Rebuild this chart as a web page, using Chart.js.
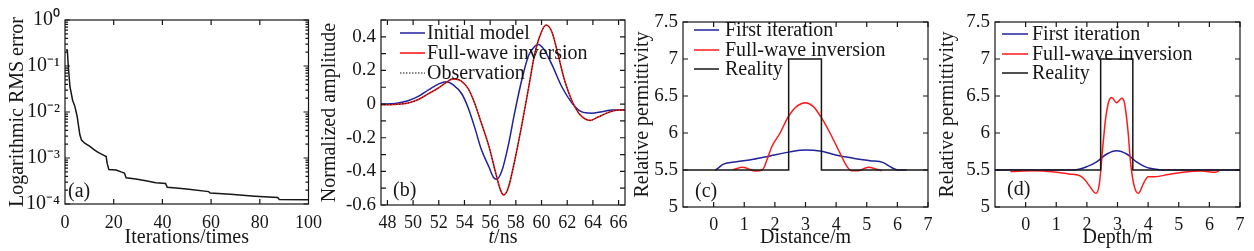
<!DOCTYPE html>
<html><head><meta charset="utf-8">
<script src="https://cdn.jsdelivr.net/npm/chart.js@4/dist/chart.umd.min.js"></script>
<style>
html,body{margin:0;padding:0;background:#fff;width:1254px;height:251px;overflow:hidden;position:relative}
canvas{position:absolute;top:0}
</style></head><body>
<canvas id="ca"></canvas><canvas id="cb"></canvas><canvas id="cc"></canvas><canvas id="cd"></canvas>
<script>
// ---------- (a) RMS error ----------
const aIter = [0.4,0.95,1.36,2.03,3.12,4.07,5.0,5.42,6.1,6.78,8.1,10.2,12.2,13.6,15.6,16.9,17.3,18.0,21.0,23.0,24.4,25.1,29.1,33.2,37.3,41.3,42.0,46.7,50.8,59.0,59.6,68.0,78.0,87.4,88.0,100];
const aErr = [0.223,0.223,0.097,0.0355,0.018,0.0131,0.008,0.0056,0.0032,0.00245,0.0021,0.00178,0.00149,0.00132,0.00117,0.00108,0.00077,0.00056,0.00055,0.0005,0.00047,0.00037,0.00035,0.00032,0.00029,0.00028,0.00023,0.00022,0.00021,0.000186,0.000174,0.000162,0.000148,0.000138,0.000126,0.000123];
const aXTicks = [0,20,40,60,80,100];
const aYTicks = [1e-4,1e-3,1e-2,1e-1,1];

// ---------- (b) waveforms ----------
const bTimeInit = [47.5,48.6,49.6,50.4,51.2,52.0,52.6,53.1,53.8,54.3,54.8,55.3,55.9,56.25,56.5,56.9,57.4,57.9,58.45,59.0,59.5,59.75,60.15,60.8,61.6,62.4,63.1,63.9,64.7,65.5,66.5];
const bInit = [0,0.004,0.02,0.046,0.085,0.12,0.133,0.116,0.06,-0.025,-0.14,-0.267,-0.373,-0.435,-0.447,-0.40,-0.25,-0.054,0.14,0.29,0.345,0.355,0.33,0.236,0.10,0.004,-0.045,-0.054,-0.045,-0.035,-0.035];
const bTimeFwi = [47.5,48.6,49.6,50.4,51.2,52.0,52.6,53.1,53.7,54.3,54.8,55.3,55.9,56.4,56.8,57.05,57.4,57.9,58.45,59.0,59.5,60.0,60.35,60.8,61.3,61.8,62.4,62.9,63.4,63.8,64.4,65.2,66.0,66.5];
const bFwi = [-0.004,-0.002,0.006,0.027,0.062,0.097,0.13,0.15,0.14,0.09,0.004,-0.11,-0.25,-0.40,-0.51,-0.54,-0.50,-0.34,-0.13,0.10,0.31,0.43,0.47,0.43,0.29,0.14,0.014,-0.054,-0.089,-0.097,-0.077,-0.05,-0.035,-0.035];
const bObs = [-0.004,-0.002,0.006,0.027,0.062,0.097,0.13,0.15,0.14,0.09,0.004,-0.11,-0.25,-0.40,-0.51,-0.54,-0.50,-0.34,-0.13,0.10,0.31,0.43,0.47,0.43,0.29,0.14,0.014,-0.054,-0.089,-0.097,-0.077,-0.05,-0.035,-0.035];
const bXTicks = [48,50,52,54,56,58,60,62,64,66];
const bYTicks = [-0.6,-0.4,-0.2,0,0.2,0.4];
const bYMinor = [-0.5,-0.3,-0.1,0.1,0.3,0.5];

// ---------- (c) permittivity vs distance ----------
const cXInit = [0.05,0.1,0.32,0.75,1.3,1.84,2.49,3.0,3.47,4.02,4.56,5.1,5.54,5.76,5.98,6.3];
const cInit = [5.5,5.51,5.58,5.61,5.645,5.69,5.745,5.77,5.757,5.70,5.66,5.626,5.6,5.545,5.505,5.5];
const cXFwi = [0.64,0.95,1.38,1.6,1.74,1.9,2.17,2.44,2.71,3.0,3.25,3.53,3.8,4.13,4.35,4.5,4.72,5.05,5.32,5.49];
const cFwi = [5.505,5.536,5.486,5.505,5.635,5.815,6.0,6.22,6.36,6.41,6.36,6.2,6.0,5.725,5.55,5.49,5.49,5.536,5.51,5.49];
const cXReal = [-1,2.45,2.45,3.52,3.52,7];
const cReal = [5.5,5.5,7,7,5.5,5.5];

// ---------- (d) permittivity vs depth ----------
const dXInit = [-1,1.56,2.0,2.32,2.65,2.97,3.3,3.62,3.95,4.28,4.5,7];
const dInit = [5.5,5.5,5.545,5.61,5.716,5.76,5.716,5.61,5.536,5.51,5.5,5.5];
const dXFwi = [-0.5,0.3,0.85,1.4,1.78,1.94,2.1,2.3,2.41,2.52,2.62,2.73,2.81,2.97,3.14,3.23,3.34,3.43,3.55,3.68,3.85,4.0,4.23,4.66,5.2,5.75,6.2,6.35];
const dFwi = [5.48,5.49,5.477,5.446,5.42,5.365,5.275,5.185,5.32,5.815,6.22,6.446,6.48,6.41,6.47,6.40,6.04,5.59,5.275,5.185,5.32,5.41,5.41,5.44,5.473,5.485,5.47,5.5];
const dXReal = [-1,2.45,2.45,3.5,3.5,7];
const dReal = [5.5,5.5,7,7,5.5,5.5];

const permXTicks = [0,1,2,3,4,5,6,7];
const permYTicks = [5,5.5,6,6.5,7,7.5];

// ---------- styling ----------
const FONT = "'Liberation Serif','Times New Roman',serif";
const INK = '#161616';
const BLUE = '#22229c';
const RED = '#ff1a1a';
const H = 251;

function pts(xs, ys){ return xs.map((x,i)=>({x:x, y:ys[i]})); }

const framePlugin = {
  id:'frame',
  afterDatasetsDraw(chart, args, o){
    const {ctx, chartArea:{left,right,top,bottom}, scales:{x,y}} = chart;
    ctx.save();
    ctx.strokeStyle = INK; ctx.lineWidth = 1.2;
    ctx.strokeRect(left, top, right-left, bottom-top);
    ctx.beginPath();
    const L = o.len || 5, Lm = o.minorLen || 3;
    (o.xTicks||[]).forEach(v=>{const p=x.getPixelForValue(v); ctx.moveTo(p,bottom); ctx.lineTo(p,bottom-L); ctx.moveTo(p,top); ctx.lineTo(p,top+L);});
    (o.yTicks||[]).forEach(v=>{const p=y.getPixelForValue(v); ctx.moveTo(left,p); ctx.lineTo(left+L,p); ctx.moveTo(right,p); ctx.lineTo(right-L,p);});
    (o.yMinor||[]).forEach(v=>{const p=y.getPixelForValue(v); ctx.moveTo(left,p); ctx.lineTo(left+Lm,p); ctx.moveTo(right,p); ctx.lineTo(right-Lm,p);});
    ctx.stroke();
    ctx.restore();
  }
};

const legendPlugin = {
  id:'innerLegend',
  afterDraw(chart, args, o){
    if(!o.rows) return;
    const {ctx, chartArea:{left,top}} = chart;
    ctx.save();
    chart.data.datasets.forEach((ds,i)=>{
      const yy = top + o.rows[i];
      ctx.beginPath();
      ctx.strokeStyle = ds.borderColor; ctx.lineWidth = ds.borderWidth || 1.5;
      ctx.setLineDash(ds.borderDash || []);
      ctx.moveTo(left+o.x0, yy); ctx.lineTo(left+o.x1, yy); ctx.stroke();
      ctx.setLineDash([]);
      ctx.fillStyle = INK; ctx.font = '20px ' + FONT; ctx.textBaseline='middle'; ctx.textAlign='left';
      ctx.fillText(ds.label, left+o.tx, yy+1);
    });
    ctx.restore();
  }
};

const tagPlugin = {
  id:'panelTag',
  afterDraw(chart, args, o){
    const {ctx, chartArea:{left,bottom}} = chart;
    ctx.save();
    ctx.fillStyle = INK; ctx.font = '20px ' + FONT; ctx.textBaseline='middle'; ctx.textAlign='left';
    ctx.fillText(o.text, left+o.dx, bottom-o.dy);
    if(o.italicTitle){
      const cx = (chart.chartArea.left+chart.chartArea.right)/2;
      ctx.font = 'italic 20px ' + FONT;
      const w1 = ctx.measureText(o.italicTitle[0]).width;
      ctx.font = '20px ' + FONT;
      const w2 = ctx.measureText(o.italicTitle[1]).width;
      const x0 = cx - (w1+w2)/2;
      ctx.font = 'italic 20px ' + FONT;
      ctx.fillText(o.italicTitle[0], x0, o.titleY);
      ctx.font = '20px ' + FONT;
      ctx.fillText(o.italicTitle[1], x0+w1, o.titleY);
    }
    ctx.restore();
  }
};

const SUP = {'0':'\u2070','1':'\u00b9','2':'\u00b2','3':'\u00b3','4':'\u2074','-':'\u207b'};
function supLabel(v){ const e = Math.round(Math.log10(v)); return '10' + String(e).split('').map(c=>SUP[c]).join(''); }

function panel(id, box, spec){
  const cv = document.getElementById(id);
  cv.width = box.x1 - box.x0; cv.height = H; cv.style.left = box.x0 + 'px';
  const xTickFont = {family: FONT, size: 18};
  const yTickFont = {family: FONT, size: spec.y.fontSize || 19};
  const titleFont = {family: FONT, size: 20};
  return new Chart(cv, {
    type:'line',
    data:{datasets: spec.datasets},
    options:{
      responsive:false, animation:false, devicePixelRatio:1,
      layout:{padding:{left:0, top:box.top, right:box.x1-box.right, bottom:0}},
      elements:{point:{radius:0}, line:{borderWidth:1.5}},
      plugins:{
        legend:{display:false}, tooltip:{enabled:false},
        frame:spec.frame, innerLegend:spec.legend || {}, panelTag:spec.tag
      },
      scales:{
        x:{
          type:'linear', min:spec.x.min, max:spec.x.max,
          afterBuildTicks: s=>{ s.ticks = spec.x.ticks.map(v=>({value:v})); },
          afterFit: s=>{ s.height = H - box.bottom; },
          grid:{display:false, drawTicks:false}, border:{display:false},
          ticks:{font:xTickFont, color:INK, padding:spec.x.pad ?? 7, maxRotation:0, autoSkip:false, callback:v=>String(v)},
          title:{display:!!spec.x.title, text:spec.x.title || '', font:titleFont, color:INK, padding:{top:0,bottom:1}}
        },
        y:{
          type:spec.y.type || 'linear', min:spec.y.min, max:spec.y.max,
          afterBuildTicks: s=>{ s.ticks = spec.y.ticks.map(v=>({value:v})); },
          afterFit: s=>{ s.width = box.left - box.x0; },
          grid:{display:false, drawTicks:false}, border:{display:false},
          ticks:{font:yTickFont, color:INK, padding:5, autoSkip:false, callback: spec.y.cb || (v=>String(v))},
          title:{display:true, text:spec.y.title, font:titleFont, color:INK, padding:{top:6,bottom:0}}
        }
      }
    },
    plugins:[framePlugin, legendPlugin, tagPlugin]
  });
}

// minor log ticks for panel (a)
const aMinor = [];
[1e-4,1e-3,1e-2,1e-1].forEach(d=>{ for(let k=2;k<10;k++) aMinor.push(d*k); });

panel('ca', {x0:0, x1:330, left:65, right:311, top:20, bottom:204}, {
  datasets:[{label:'RMS error', data:pts(aIter,aErr), borderColor:INK, borderWidth:1.5, tension:0}],
  x:{min:0, max:100, ticks:aXTicks, title:'Iterations/times', pad:8},
  y:{type:'logarithmic', min:1e-4, max:1, ticks:aYTicks, title:'Logarithmic RMS error', cb:v=>supLabel(v), fontSize:20},
  frame:{xTicks:[20,40,60,80], yTicks:aYTicks, yMinor:aMinor, len:5, minorLen:3},
  tag:{text:'(a)', dx:3, dy:12}
});

panel('cb', {x0:312, x1:640, left:381, right:625, top:20, bottom:205}, {
  datasets:[
    {label:'Initial model', data:pts(bTimeInit,bInit), borderColor:BLUE, borderWidth:1.5, cubicInterpolationMode:'monotone', order:2},
    {label:'Full-wave inversion', data:pts(bTimeFwi,bFwi), borderColor:RED, borderWidth:1.6, cubicInterpolationMode:'monotone', order:1},
    {label:'Observation', data:pts(bTimeFwi,bObs), borderColor:INK, borderWidth:1, borderDash:[1.5,1.5], cubicInterpolationMode:'monotone', order:0}
  ],
  x:{min:47.5, max:66.5, ticks:bXTicks, title:''},
  y:{min:-0.6, max:0.5, ticks:bYTicks, title:'Normalized amplitude'},
  frame:{xTicks:bXTicks, yTicks:bYTicks, yMinor:bYMinor, len:5, minorLen:5},
  legend:{x0:19, x1:44, tx:46, rows:[13,33,53]},
  tag:{text:'(b)', dx:12, dy:14, italicTitle:['t','/ns'], titleY:238}
});

panel('cc', {x0:625, x1:945, left:683, right:928, top:22, bottom:207}, {
  datasets:[
    {label:'First iteration', data:pts(cXInit,cInit), borderColor:BLUE, borderWidth:1.5, cubicInterpolationMode:'monotone', order:2},
    {label:'Full-wave inversion', data:pts(cXFwi,cFwi), borderColor:RED, borderWidth:1.5, cubicInterpolationMode:'monotone', order:1},
    {label:'Reality', data:pts(cXReal,cReal), borderColor:INK, borderWidth:1.5, tension:0, order:0}
  ],
  x:{min:-1, max:7, ticks:permXTicks, title:'Distance/m'},
  y:{min:5, max:7.5, ticks:permYTicks, title:'Relative permittivity'},
  frame:{xTicks:permXTicks, yTicks:permYTicks, len:5},
  legend:{x0:11, x1:36, tx:42, rows:[8,28,47]},
  tag:{text:'(c)', dx:12, dy:15}
});

panel('cd', {x0:930, x1:1254, left:995, right:1240, top:22, bottom:207}, {
  datasets:[
    {label:'First iteration', data:pts(dXInit,dInit), borderColor:BLUE, borderWidth:1.5, cubicInterpolationMode:'monotone', order:2},
    {label:'Full-wave inversion', data:pts(dXFwi,dFwi), borderColor:RED, borderWidth:1.5, cubicInterpolationMode:'monotone', order:1},
    {label:'Reality', data:pts(dXReal,dReal), borderColor:INK, borderWidth:1.5, tension:0, order:0}
  ],
  x:{min:-1, max:7, ticks:permXTicks, title:'Depth/m'},
  y:{min:5, max:7.5, ticks:permYTicks, title:'Relative permittivity'},
  frame:{xTicks:permXTicks, yTicks:permYTicks, len:5},
  legend:{x0:7, x1:33, tx:37, rows:[12,32,51]},
  tag:{text:'(d)', dx:12, dy:17}
});
</script>
</body></html>
